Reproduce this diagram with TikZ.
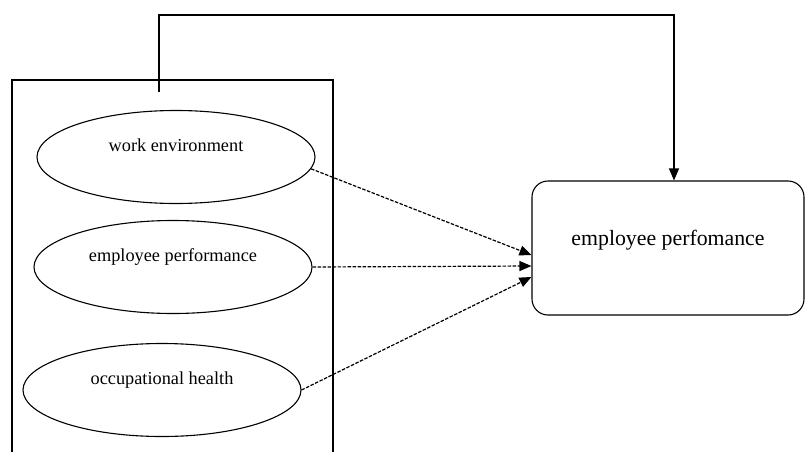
\documentclass[tikz,border=0pt]{standalone}
\usepackage{fontspec}
\setmainfont{Liberation Serif}
\usetikzlibrary{shapes.geometric,arrows.meta}

\tikzset{
  var/.style={draw,ellipse,line width=1.1pt,minimum width=278pt,minimum height=93pt,
    inner sep=0pt,text height=14pt,text depth=26pt,font=\fontsize{18.3}{20}\selectfont},
  res/.style={draw,rounded corners=16pt,line width=1.1pt,minimum width=272pt,minimum height=134pt,
    inner sep=0pt,text height=16pt,text depth=22pt,font=\fontsize{21.8}{24}\selectfont},
  dep/.style={-{Triangle[length=12pt,width=10pt]},line width=1.2pt,dash pattern=on 3.5pt off 1.5pt},
  lnk/.style={-{Triangle[length=12pt,width=10pt]},line width=1.1pt}
}

\begin{document}
\begin{tikzpicture}[x=1pt,y=-1pt]
%%Location
\useasboundingbox (0,0) rectangle (805,452);

%%frame
\draw[line width=1.1pt] (12,452) |- (333,80) -- (333,452);
\coordinate (tap) at (159,92);

\draw (176,157) node [var] (we) {work environment};
\draw (173,267) node [var] (ep) {employee performance};
\draw (162,390) node [var] (oh) {occupational health};

\draw (668,248) node [res] (perf) {employee perfomance};

\draw[dep] (we.-5) -- ([yshift=-7pt]perf.west);
\draw[dep] (ep.east) -- ([yshift=-18pt]perf.west);
\draw[dep] (oh.east) -- ([yshift=-29pt]perf.west);

\draw[lnk] (tap) -- (159,15) -| ([xshift=6pt]perf.north);

\end{tikzpicture}
\end{document}
